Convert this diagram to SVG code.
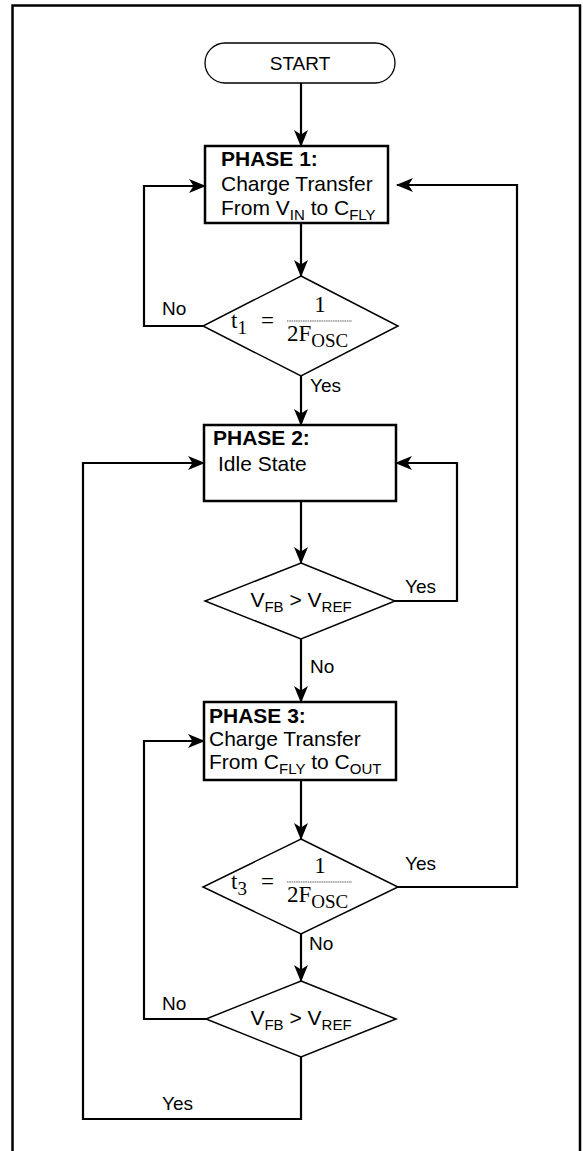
<svg xmlns="http://www.w3.org/2000/svg" width="583" height="1151" viewBox="0 0 583 1151">
<style>
.t{font-family:"Liberation Sans",Arial,sans-serif;font-size:21px;fill:#000}
.b{font-weight:bold}
.lbl{font-family:"Liberation Sans",Arial,sans-serif;font-size:19px;fill:#000}
.m{font-family:"Liberation Serif","Times New Roman",serif;font-size:23px;fill:#000}
.sub{font-size:15px}
.msub{font-size:19px}
.box{fill:#fff;stroke:#000;stroke-width:2.5}
.dia{fill:#fff;stroke:#000;stroke-width:1.5}
.term{fill:#fff;stroke:#000;stroke-width:1.3}
.con{fill:none;stroke:#000;stroke-width:2.2}
.frac{stroke:#555;stroke-width:1.2;stroke-dasharray:1.5 0.8}
.frame{fill:none;stroke:#000;stroke-width:2.5}
</style>
<defs>
<marker id="ah" markerWidth="17" markerHeight="14" refX="16" refY="7" orient="auto" markerUnits="userSpaceOnUse">
<path d="M0,0 L17,7 L0,14 L4.5,7 z" fill="#000"/>
</marker>
</defs>
<rect width="583" height="1151" fill="#fff"/>
<path class="frame" d="M12.5,1151 V5.5 H580 V1151"/>

<g id="connectors">
<path class="con" d="M301,83 V146" marker-end="url(#ah)"/>
<path class="con" d="M301,223 V276" marker-end="url(#ah)"/>
<path class="con" d="M203,326 H144 V186 H205" marker-end="url(#ah)"/>
<path class="con" d="M301,376 V425" marker-end="url(#ah)"/>
<path class="con" d="M301,501 V563" marker-end="url(#ah)"/>
<path class="con" d="M395,601 H457 V463 H396" marker-end="url(#ah)"/>
<path class="con" d="M301,639 V702" marker-end="url(#ah)"/>
<path class="con" d="M301,780 V839" marker-end="url(#ah)"/>
<path class="con" d="M398,887 H517 V185 H397" marker-end="url(#ah)"/>
<path class="con" d="M301,934 V981" marker-end="url(#ah)"/>
<path class="con" d="M206,1019 H144 V741 H204" marker-end="url(#ah)"/>
<path class="con" d="M301,1057 V1119 H83 V463 H204" marker-end="url(#ah)"/>
<text class="lbl" x="162" y="315">No</text>
<text class="lbl" x="310" y="392">Yes</text>
<text class="lbl" x="405" y="593">Yes</text>
<text class="lbl" x="310" y="673">No</text>
<text class="lbl" x="405" y="870">Yes</text>
<text class="lbl" x="309" y="950">No</text>
<text class="lbl" x="162" y="1010">No</text>
<text class="lbl" x="162" y="1110">Yes</text>
</g>

<g id="start">
<rect class="term" x="205" y="43" width="190" height="40" rx="20" ry="20"/>
<text class="t" style="font-size:19px" x="300" y="70" text-anchor="middle">START</text>
</g>

<g id="phase1">
<rect class="box" x="205" y="146" width="183" height="77"/>
<text class="t b" x="221" y="166">PHASE 1:</text>
<text class="t" x="221" y="191">Charge Transfer</text>
<text class="t" x="221" y="215">From V<tspan class="sub" dy="5">IN</tspan><tspan dy="-5"> to C</tspan><tspan class="sub" dy="5">FLY</tspan></text>
</g>

<g id="decision1">
<polygon class="dia" points="301,276 398,326 301,376 203,326"/>
<text class="m" x="231" y="328">t<tspan class="msub" dy="6">1</tspan></text>
<text class="m" x="261" y="328">=</text>
<text class="m" x="320" y="312" text-anchor="middle">1</text>
<line class="frac" x1="287" y1="321" x2="352" y2="321"/>
<text class="m" x="287" y="341">2F<tspan class="msub" dy="6">OSC</tspan></text>
</g>

<g id="phase2">
<rect class="box" x="204" y="425" width="192" height="76"/>
<text class="t b" x="213" y="445">PHASE 2:</text>
<text class="t" x="218" y="471">Idle State</text>
</g>

<g id="decision2">
<polygon class="dia" points="301,563 395,601 301,639 205,601"/>
<text class="t" x="301" y="607" text-anchor="middle">V<tspan class="sub" dy="5">FB</tspan><tspan dy="-5"> &gt; V</tspan><tspan class="sub" dy="5">REF</tspan></text>
</g>

<g id="phase3">
<rect class="box" x="204" y="702" width="192" height="78"/>
<text class="t b" x="209" y="723">PHASE 3:</text>
<text class="t" x="209" y="746">Charge Transfer</text>
<text class="t" x="209" y="769">From C<tspan class="sub" dy="5">FLY</tspan><tspan dy="-5"> to C</tspan><tspan class="sub" dy="5">OUT</tspan></text>
</g>

<g id="decision3">
<polygon class="dia" points="301,839 398,887 301,934 203,887"/>
<text class="m" x="231" y="889">t<tspan class="msub" dy="6">3</tspan></text>
<text class="m" x="261" y="889">=</text>
<text class="m" x="320" y="873" text-anchor="middle">1</text>
<line class="frac" x1="287" y1="882" x2="352" y2="882"/>
<text class="m" x="287" y="902">2F<tspan class="msub" dy="6">OSC</tspan></text>
</g>

<g id="decision4">
<polygon class="dia" points="301,981 396,1019 301,1057 206,1019"/>
<text class="t" x="301" y="1025" text-anchor="middle">V<tspan class="sub" dy="5">FB</tspan><tspan dy="-5"> &gt; V</tspan><tspan class="sub" dy="5">REF</tspan></text>
</g>
</svg>
